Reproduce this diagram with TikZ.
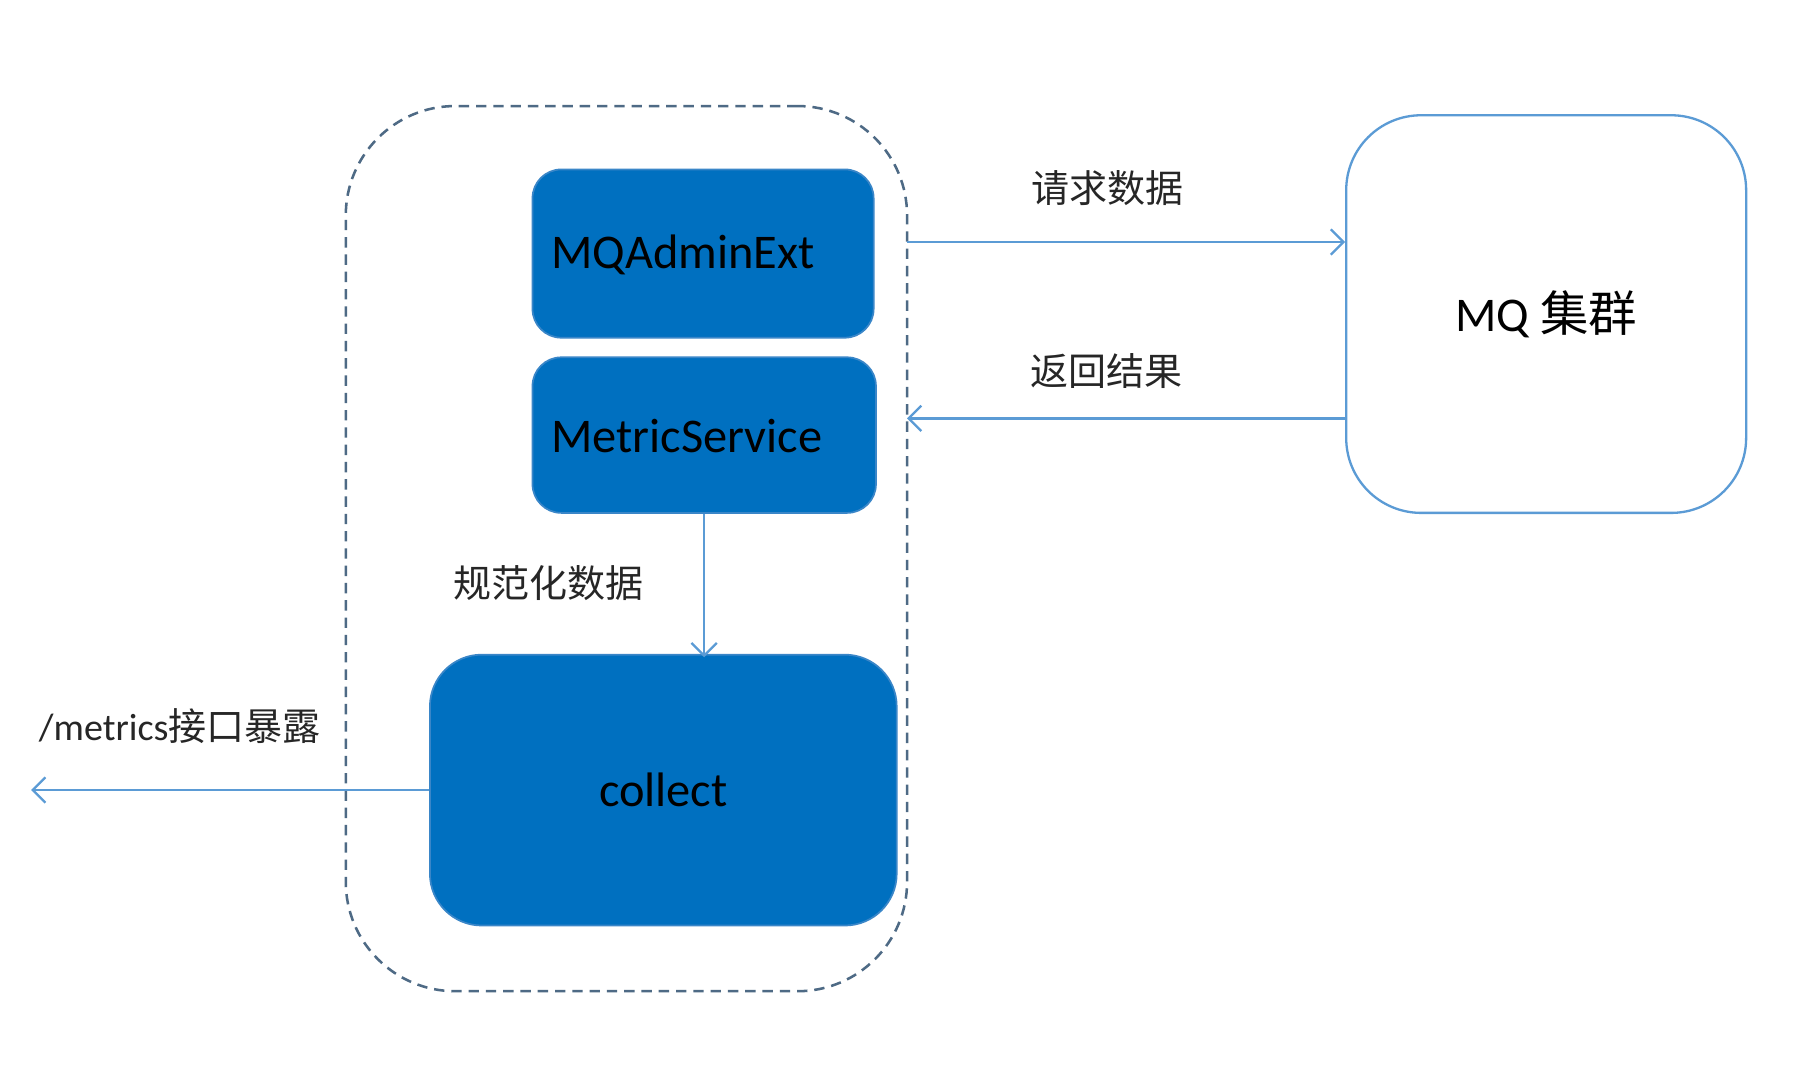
\documentclass[tikz,border=0pt]{standalone}
\usepackage{fontspec}
\setmainfont{Carlito}
\newfontfamily\cjk{Noto Sans CJK SC}
\usetikzlibrary{arrows.meta}
\definecolor{boxblue}{HTML}{0070C0}
\definecolor{boxedge}{HTML}{3A86C8}
\definecolor{linkblue}{HTML}{5B9BD5}
\definecolor{framegray}{HTML}{4E6A85}
\begin{document}
\begin{tikzpicture}[x=1pt,y=-1pt,
 bluebox/.style={fill=boxblue, draw=boxedge, line width=1.5pt, inner sep=0pt},
 boxtext/.style={font=\fontsize{42}{50}\selectfont, text=black, inner sep=0pt},
 lbl/.style={font=\fontsize{33}{40}\selectfont\cjk, text=black!85, inner sep=0pt},
 link/.style={draw=linkblue, line width=2pt, -{Straight Barb[length=11pt,width=22pt]}},
]
\useasboundingbox[fill=white] (0,0) rectangle (1560,937);
\node[draw=framegray, dash pattern=on 9pt off 6pt, line width=2.2pt, rounded corners=95pt, minimum width=487pt, minimum height=768pt, inner sep=0pt] (frame) at (543.5,476) {};
\node[bluebox, rounded corners=25pt, minimum width=296pt, minimum height=146pt] (mqa) at (610,220) {};
\node[bluebox, rounded corners=25pt, minimum width=298pt, minimum height=135pt] (ms) at (611,377.5) {};
\node[bluebox, rounded corners=45pt, minimum width=405pt, minimum height=235pt, boxtext] (col) at (575.5,685.5) {collect};
\node[boxtext, anchor=west] (mqatxt) at (478,221) {MQAdminExt};
\node[boxtext, anchor=west] (mstxt) at (478,378) {MetricService};
\node[draw=linkblue, fill=white, line width=2pt, rounded corners=65pt, minimum width=347pt, minimum height=345pt, boxtext] (mq) at (1341.5,272.5) {MQ {\cjk 集群}};
\coordinate (reqstart) at (787,210);
\coordinate (retend) at (787,363);
\coordinate (expo) at (27,685.5);
\draw[link] (reqstart) -- (mq.west |- reqstart);
\draw[link] (mq.west |- retend) -- (retend);
\draw[link] (ms.south) -- ([yshift=-3pt]ms.south |- col.north);
\draw[link] (col.west) -- (expo);
\node[lbl] (l1) at (961,163) {请求数据};
\node[lbl] (l2) at (960,322) {返回结果};
\node[lbl] (l3) at (476,506) {规范化数据};
\node[lbl, font=\fontsize{33}{40}\selectfont] (l4) at (156,630) {/metrics{\cjk 接口暴露}};
\end{tikzpicture}
\end{document}
